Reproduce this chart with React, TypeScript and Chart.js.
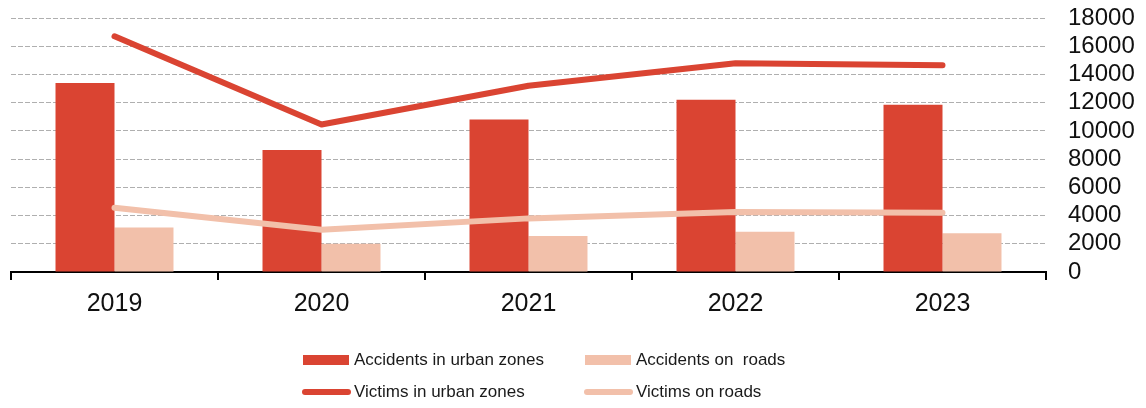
import React, { useEffect, useRef } from "react";
import { Chart, registerables } from "chart.js";

Chart.register(...registerables);

const years = ["2019", "2020", "2021", "2022", "2023"];
const accidentsUrban = [13400, 8650, 10800, 12200, 11850];
const accidentsRoads = [3150, 2000, 2550, 2850, 2750];
const victimsUrban = [16700, 10450, 13200, 14800, 14650];
const victimsRoads = [4550, 3000, 3800, 4250, 4200];

const yMin = 0;
const yMax = 18000;
const yStep = 2000;

const RED = "rgb(218,68,50)";
const PINK = "rgb(242,192,170)";
const FONT = "Arial, 'Liberation Sans', sans-serif";

const legendItems = [
  { label: "Accidents in urban zones", color: RED, kind: "bar" },
  { label: "Accidents on  roads", color: PINK, kind: "bar" },
  { label: "Victims in urban zones", color: RED, kind: "line" },
  { label: "Victims on roads", color: PINK, kind: "line" },
];

export default function App() {
  const ref = useRef<HTMLCanvasElement | null>(null);

  useEffect(() => {
    if (!ref.current) return;
    const chart = new Chart(ref.current, {
      type: "bar",
      data: {
        labels: years,
        datasets: [
          {
            type: "line",
            label: "Victims in urban zones",
            data: victimsUrban,
            borderColor: RED,
            backgroundColor: RED,
            borderWidth: 6,
            pointRadius: 0,
            borderCapStyle: "round",
            borderJoinStyle: "round",
            tension: 0,
            order: 0,
          },
          {
            type: "line",
            label: "Victims on roads",
            data: victimsRoads,
            borderColor: PINK,
            backgroundColor: PINK,
            borderWidth: 6,
            pointRadius: 0,
            borderCapStyle: "round",
            borderJoinStyle: "round",
            tension: 0,
            order: 1,
          },
          {
            type: "bar",
            label: "Accidents in urban zones",
            data: accidentsUrban,
            backgroundColor: RED,
            borderWidth: 0,
            categoryPercentage: 0.57,
            barPercentage: 1,
            order: 2,
          },
          {
            type: "bar",
            label: "Accidents on  roads",
            data: accidentsRoads,
            backgroundColor: PINK,
            borderWidth: 0,
            categoryPercentage: 0.57,
            barPercentage: 1,
            order: 2,
          },
        ],
      },
      options: {
        responsive: false,
        animation: false,
        maintainAspectRatio: false,
        layout: { padding: { left: 11, right: 0, top: 18, bottom: 0 } },
        plugins: {
          legend: { display: false },
          tooltip: { enabled: false },
        },
        scales: {
          x: {
            offset: true,
            grid: {
              offset: true,
              drawOnChartArea: false,
              drawTicks: true,
              tickLength: 8,
              color: "#000",
              lineWidth: 2,
            },
            border: { display: true, color: "#000", width: 2 },
            ticks: {
              color: "#111",
              padding: 9,
              autoSkip: false,
              maxRotation: 0,
              font: { family: FONT, size: 25 },
            },
            afterFit: (s: any) => {
              s.height = 136;
            },
          },
          y: {
            position: "right",
            min: yMin,
            max: yMax,
            grid: {
              drawTicks: true,
              tickLength: 22,
              tickColor: "rgba(0,0,0,0)",
              color: (ctx: any) =>
                ctx.tick && ctx.tick.value === 0 ? "rgba(0,0,0,0)" : "rgb(175,175,175)",
              lineWidth: 1,
            },
            border: { display: false, dash: [5, 2] },
            ticks: {
              stepSize: yStep,
              autoSkip: false,
              color: "#111",
              padding: 0,
              font: { family: FONT, size: 24, lineHeight: 1 },
              callback: (v: any) => String(v),
            },
            afterFit: (s: any) => {
              s.width = 100;
            },
          },
        },
      },
    });
    return () => chart.destroy();
  }, []);

  return (
    <div
      style={{
        position: "fixed",
        left: 0,
        top: 0,
        width: 1146,
        height: 408,
        background: "#fff",
        fontFamily: FONT,
      }}
    >
      <canvas ref={ref} width={1146} height={408} style={{ display: "block" }} />
      <div
        style={{
          position: "absolute",
          left: 302,
          top: 344,
          display: "grid",
          gridTemplateColumns: "282px 282px",
          gridAutoRows: "32px",
        }}
      >
        {legendItems.map((it) => (
          <div
            key={it.label}
            style={{ display: "flex", alignItems: "center", whiteSpace: "pre" }}
          >
            <span
              style={{
                display: "inline-block",
                width: it.kind === "bar" ? 46 : 49,
                marginLeft: it.kind === "bar" ? 1 : 0,
                height: it.kind === "bar" ? 10 : 6,
                borderRadius: it.kind === "bar" ? 0 : 3,
                background: it.color,
                marginRight: it.kind === "bar" ? 5 : 3,
              }}
            />
            <span style={{ fontSize: 17, color: "#1a1a1a" }}>{it.label}</span>
          </div>
        ))}
      </div>
    </div>
  );
}
